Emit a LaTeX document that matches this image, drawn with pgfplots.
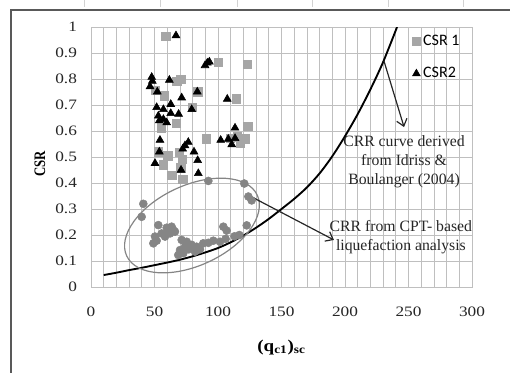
\documentclass[border=0pt]{standalone}
\usepackage{fontspec}
\setmainfont{Liberation Serif}
\newfontfamily\tickfont[FakeStretch=1.2]{Liberation Serif}
\newfontfamily\ylabfont[FakeStretch=0.8]{Liberation Serif}
\newfontfamily\xlabfont[FakeStretch=1.15]{Liberation Serif}
\newfontfamily\legfont{Carlito}
\usepackage{pgfplots}
\pgfplotsset{compat=1.18}
\usetikzlibrary{arrows.meta,shapes.geometric}
\definecolor{gridc}{HTML}{BFBFBF}
\definecolor{sq}{HTML}{A6A6A6}
\definecolor{circ}{HTML}{858585}
\definecolor{framec}{HTML}{595959}
\begin{document}
\begin{tikzpicture}
\useasboundingbox (0,0) rectangle (382.5pt,279pt);
\draw[framec, line width=1.5pt] (7.9pt,-5pt) -- (7.9pt,271.5pt) -- (390pt,271.5pt);
\foreach \X in {84,160,237,312,388,463} {\draw[gray!35, line width=0.6pt] ({\X*0.75pt},279pt) -- ({\X*0.75pt},274pt);}
\begin{axis}[
 at={(68.25pt,63.75pt)}, anchor=south west,
 scale only axis, width=285.75pt, height=195pt,
 xmin=0, xmax=300, ymin=0, ymax=1,
 xtick={0,50,100,150,200,250,300}, minor x tick num=4,
 ytick={0,0.1,0.2,0.3,0.4,0.5,0.6,0.7,0.8,0.9,1},
 xmajorgrids, xminorgrids, ymajorgrids,
 grid style={gridc, line width=0.6pt},
 minor grid style={gridc, line width=0.6pt},
 axis line style={gridc, line width=0.6pt},
 major tick length=0pt, minor tick length=0pt,
 tick label style={font=\tickfont\fontsize{10.8}{12}\selectfont, text=black!85},
 /pgf/number format/assume math mode=true,
 yticklabel shift=7pt, xticklabel shift=11.5pt,
 xlabel={(q\textsubscript{c1})\textsubscript{sc}},
 xlabel style={at={(axis description cs:0.5,-0.231)}, anchor=center, font=\xlabfont\bfseries\fontsize{12.4}{14}\selectfont},
 ylabel={CSR},
 ylabel style={at={(axis description cs:-0.134,0.473)}, anchor=center, font=\ylabfont\bfseries\fontsize{12}{14}\selectfont},
 legend style={at={(axis description cs:0.8425,0.98)}, anchor=north west, draw=none, fill=none,
   font=\legfont\fontsize{12}{14}\selectfont, row sep=11pt, inner sep=0pt},
 legend cell align=left,
 legend image code/.code={\draw[mark repeat=2,mark phase=2,#1] plot coordinates {(0cm,0cm) (0.15cm,0cm) (0.3cm,0cm)};},
]
\addplot[only marks, mark=square*, mark size=3.1pt, color=sq] coordinates {
(58.8,0.963) (100.3,0.864) (123.1,0.858) (70.6,0.800) (67.5,0.790)
(50.6,0.758) (57.7,0.736) (84.0,0.751) (114.2,0.724) (79.5,0.690)
(66.9,0.630) (55.1,0.612) (123.4,0.617) (90.5,0.570) (109.4,0.572)
(115.2,0.578) (121.5,0.570) (117.5,0.552) (53.0,0.520) (60.5,0.505)
(69.5,0.518) (72.0,0.490) (57.0,0.470) (70.6,0.459) (63.5,0.430) (72.2,0.413)
};
\addlegendentry{CSR 1}
\addplot[only marks, mark=triangle*, mark size=3.4pt, color=black] coordinates {
(66.9,0.967) (89.8,0.852) (91.6,0.862) (93.2,0.866)
(47.8,0.807) (48.3,0.792) (46.5,0.771) (61.7,0.796)
(83.7,0.751) (52.2,0.751) (71.4,0.728) (107.3,0.723)
(51.7,0.691) (62.8,0.703) (57.0,0.683) (79.3,0.683)
(62.8,0.668) (69.0,0.665) (53.0,0.658) (53.8,0.640)
(57.0,0.645) (59.6,0.632) (113.4,0.612) (102.1,0.565)
(108.1,0.569) (113.4,0.572) (110.8,0.548) (54.3,0.565)
(76.6,0.557) (74.0,0.544) (72.2,0.531) (53.8,0.520)
(81.1,0.520) (84.0,0.487) (50.4,0.476) (70.9,0.450) (84.5,0.437)
};
\addlegendentry{CSR2}
\addplot[only marks, mark=*, mark size=3pt, color=circ, forget plot] coordinates {
(41.2,0.320) (39.9,0.270) (92.4,0.408) (120.7,0.398) (123.9,0.348) (126.5,0.333)
(122.6,0.237) (116.8,0.200)
(53.0,0.238) (50.4,0.194) (49.1,0.168) (51.7,0.178) (55.6,0.206) (58.3,0.194)
(59.6,0.228) (62.2,0.206) (63.5,0.232) (64.8,0.219) (66.1,0.213) (60.5,0.215)
(71.4,0.181) (75.4,0.174) (79.3,0.162) (74.0,0.155) (70.1,0.142) (68.7,0.123)
(72.7,0.130) (77.0,0.145) (81.9,0.136) (83.2,0.155) (85.8,0.145) (88.4,0.168)
(92.4,0.170) (96.3,0.178) (101.6,0.174) (104.2,0.232) (106.8,0.217) (106.0,0.185) (113.0,0.195)
};
\addplot[black, line width=1.4pt, smooth, forget plot] coordinates {
(10,0.046) (20,0.055) (30,0.065) (40,0.074) (50,0.084) (60,0.094) (70,0.105)
(80,0.118) (90,0.133) (100,0.150) (110,0.172) (120,0.198) (130,0.228) (140,0.262)
(150,0.300) (160,0.339) (170,0.383) (180,0.437) (190,0.503) (200,0.580)
(210,0.665) (220,0.760) (230,0.865) (241,1.0)
};
\node[draw=circ, line width=0.9pt, ellipse, minimum width=108pt, minimum height=60pt, inner sep=0pt, rotate=25] at (axis cs:79.5,0.2365) {};
\node[align=center, font=\fontsize{11.8}{14.25}\selectfont, text=black!85] at (axis cs:246.5,0.481) {CRR curve derived\\from Idriss \&\\Boulanger (2004)};
\node[align=center, font=\fontsize{11.8}{14.25}\selectfont, text=black!85] at (axis cs:244,0.19) {CRR from CPT- based\\liquefaction analysis};
\draw[black!85, line width=0.9pt, -{Straight Barb[length=5pt,width=8pt]}] (axis cs:230.7,0.869) -- (axis cs:246.5,0.615);
\draw[black!85, line width=0.9pt, -{Straight Barb[length=5pt,width=8pt]}] (axis cs:123.6,0.354) -- (axis cs:191.3,0.181);
\end{axis}
\end{tikzpicture}
\end{document}
